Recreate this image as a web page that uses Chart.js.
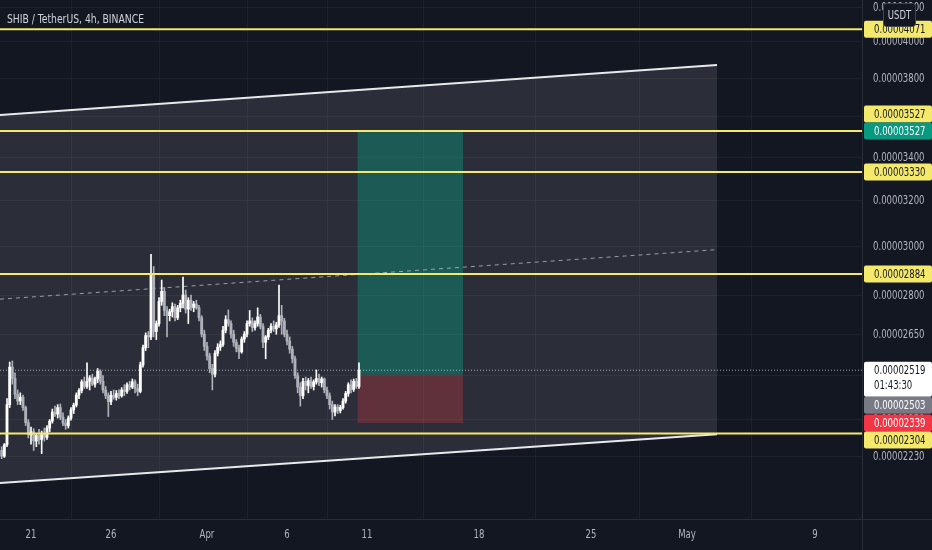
<!DOCTYPE html>
<html>
<head>
<meta charset="utf-8">
<title>SHIB / TetherUS, 4h</title>
<script src="https://cdn.jsdelivr.net/npm/chart.js@4.4.1/dist/chart.umd.min.js"></script>
<style>
  html, body { margin: 0; padding: 0; background: #131722; overflow: hidden; }
  #wrap { width: 932px; height: 550px; }
</style>
</head>
<body>
<div id="wrap"><canvas id="chart" width="932" height="550"></canvas></div>
<script>
// all prices are in units of 1e-8 USDT (2519 -> 0.00002519)
// time is counted in days from Mar 1 00:00 (20 -> Mar 21)

// 4h candles, first one Mar 19 04:00
const firstCandleDay = 18 + 4 / 24
const candleStep = 4 / 24

const opens = [2250, 2232, 2268, 2400, 2530, 2490, 2435, 2412, 2425, 2390,
  2340, 2300, 2310, 2280, 2298, 2285, 2305, 2292, 2322, 2345,
  2375, 2368, 2390, 2358, 2338, 2330, 2355, 2382, 2398, 2432,
  2448, 2478, 2462, 2480, 2492, 2470, 2488, 2515, 2480, 2450,
  2430, 2410, 2432, 2425, 2438, 2430, 2450, 2445, 2468, 2460,
  2478, 2455, 2445, 2538, 2600, 2645, 2640, 2880, 2660, 2690,
  2775, 2815, 2740, 2720, 2735, 2755, 2712, 2750, 2768, 2800,
  2745, 2780, 2752, 2765, 2750, 2712, 2650, 2605, 2570, 2525,
  2505, 2580, 2602, 2612, 2665, 2705, 2690, 2650, 2620, 2598,
  2585, 2632, 2650, 2690, 2700, 2675, 2690, 2715, 2680, 2620,
  2640, 2665, 2680, 2670, 2685, 2720, 2700, 2650, 2625, 2595,
  2560, 2500, 2460, 2430, 2480, 2465, 2482, 2462, 2478, 2490,
  2475, 2488, 2450, 2430, 2400, 2375, 2392, 2380, 2390, 2412,
  2438, 2468, 2452, 2480, 2462]
const highs = [2262, 2272, 2420, 2548, 2552, 2510, 2450, 2440, 2432, 2395,
  2350, 2325, 2320, 2305, 2318, 2312, 2322, 2330, 2350, 2385,
  2395, 2400, 2402, 2372, 2350, 2362, 2390, 2405, 2440, 2455,
  2485, 2495, 2545, 2500, 2505, 2495, 2525, 2520, 2500, 2462,
  2440, 2445, 2450, 2448, 2450, 2458, 2468, 2475, 2480, 2488,
  2485, 2470, 2548, 2610, 2655, 2660, 2965, 2915, 2700, 2790,
  2860, 2830, 2755, 2745, 2770, 2765, 2760, 2780, 2872, 2820,
  2790, 2800, 2775, 2780, 2760, 2720, 2665, 2620, 2580, 2540,
  2590, 2615, 2625, 2680, 2720, 2742, 2700, 2665, 2630, 2610,
  2640, 2660, 2700, 2740, 2712, 2700, 2750, 2725, 2690, 2645,
  2672, 2690, 2700, 2695, 2840, 2760, 2710, 2665, 2640, 2605,
  2570, 2510, 2475, 2490, 2495, 2490, 2495, 2485, 2520, 2505,
  2495, 2492, 2460, 2440, 2412, 2400, 2400, 2398, 2420, 2445,
  2475, 2485, 2488, 2490, 2545]
const lows = [2224, 2228, 2262, 2390, 2470, 2420, 2400, 2400, 2380, 2330,
  2290, 2270, 2250, 2262, 2270, 2240, 2280, 2285, 2310, 2338,
  2360, 2355, 2350, 2330, 2318, 2322, 2348, 2370, 2392, 2420,
  2440, 2455, 2455, 2450, 2465, 2460, 2475, 2470, 2440, 2420,
  2360, 2400, 2418, 2415, 2420, 2425, 2430, 2438, 2450, 2455,
  2440, 2430, 2440, 2530, 2590, 2600, 2630, 2640, 2630, 2680,
  2760, 2720, 2640, 2700, 2715, 2700, 2705, 2735, 2750, 2730,
  2690, 2740, 2735, 2745, 2700, 2640, 2590, 2555, 2510, 2450,
  2495, 2570, 2590, 2605, 2655, 2680, 2635, 2605, 2585, 2560,
  2580, 2620, 2640, 2680, 2660, 2665, 2680, 2670, 2600, 2560,
  2630, 2655, 2660, 2650, 2675, 2650, 2640, 2610, 2580, 2545,
  2490, 2440, 2395, 2420, 2450, 2440, 2455, 2450, 2470, 2465,
  2460, 2440, 2420, 2385, 2350, 2362, 2370, 2372, 2385, 2405,
  2428, 2440, 2445, 2455, 2455]
const closes = [2232, 2268, 2400, 2530, 2490, 2435, 2412, 2425, 2390, 2340,
  2300, 2310, 2280, 2298, 2285, 2305, 2292, 2322, 2345, 2375,
  2368, 2390, 2358, 2338, 2330, 2355, 2382, 2398, 2432, 2448,
  2478, 2462, 2480, 2492, 2470, 2488, 2515, 2480, 2450, 2430,
  2410, 2432, 2425, 2438, 2430, 2450, 2445, 2468, 2460, 2478,
  2455, 2445, 2538, 2600, 2645, 2640, 2880, 2660, 2690, 2775,
  2815, 2740, 2720, 2735, 2755, 2712, 2750, 2768, 2800, 2745,
  2780, 2752, 2765, 2750, 2712, 2650, 2605, 2570, 2525, 2505,
  2580, 2602, 2612, 2665, 2705, 2690, 2650, 2620, 2598, 2585,
  2632, 2650, 2690, 2700, 2675, 2690, 2715, 2680, 2620, 2640,
  2665, 2680, 2670, 2685, 2720, 2700, 2650, 2625, 2595, 2560,
  2500, 2460, 2430, 2480, 2465, 2482, 2462, 2478, 2490, 2475,
  2488, 2450, 2430, 2400, 2375, 2392, 2380, 2390, 2412, 2438,
  2468, 2452, 2480, 2462, 2519]

// visible range
const xMin = 18.0625
const xMax = 71.9375
const yMin = 2043
const yMax = 4242

// axis ticks
const dayTicks = [20, 25, 31, 36, 41, 48, 55, 61, 69]
const dayLabels = ['21', '26', 'Apr', '6', '11', '18', '25', 'May', '9']
const priceTicks = [2230, 2350, 2500, 2650, 2800, 3000, 3200, 3400, 3600, 3800, 4000, 4200]

// drawings
const levels = [4071, 3527, 3330, 2884, 2304]
const channelDays = [xMin, 62.875]
const channelTop = [3608, 3871]
const channelMid = [2784, 2985]
const channelBottom = [2149, 2302]

const positionDays = [40.4, 47.0]
const takeProfit = 3527
const entry = 2503
const stopLoss = 2339
const lastPrice = 2519
const countdown = '01:43:30'

const title = 'SHIB / TetherUS, 4h, BINANCE'

// styles
const fontFamily = '"DejaVu Sans Condensed", sans-serif'
const squeeze = 0.79 // the screenshot font is narrower than anything installed
const textColor = '#b2b5be'
const gridColor = 'rgba(255, 255, 255, 0.045)'
const upColor = '#ffffff'
const downColor = '#aeb1ba'
const levelColor = '#f5e96b'

const candleDays = opens.map((_, i) => firstCandleDay + i * candleStep)
const candleColor = (ctx) => closes[ctx.dataIndex] >= opens[ctx.dataIndex] ? upColor : downColor

function segment (label, xs, ys, extra) {
  return Object.assign({
    type: 'line',
    label,
    data: xs.map((x, i) => ({ x, y: ys[i] })),
    pointRadius: 0,
    borderWidth: 1,
    tension: 0,
    fill: false
  }, extra)
}

const datasets = [
  segment('channel top', channelDays, channelTop, {
    borderColor: '#e8e9ec', borderWidth: 2, fill: 1,
    backgroundColor: 'rgba(255, 255, 255, 0.1)', order: 80
  }),
  segment('channel bottom', channelDays, channelBottom, { borderColor: '#e8e9ec', borderWidth: 2, order: 79 }),
  segment('profit', positionDays, [takeProfit, takeProfit], {
    borderWidth: 0, borderColor: 'transparent', fill: { value: entry },
    backgroundColor: 'rgba(8, 153, 129, 0.42)', order: 70
  }),
  segment('loss', positionDays, [entry, entry], {
    borderWidth: 0, borderColor: 'transparent', fill: { value: stopLoss },
    backgroundColor: 'rgba(242, 54, 69, 0.27)', order: 70
  }),
  segment('channel mid', channelDays, channelMid, { borderColor: 'rgba(200, 202, 210, 0.7)', borderDash: [4, 4], order: 60 }),
  segment('last price', [xMin, xMax], [lastPrice, lastPrice], { borderColor: 'rgba(200, 202, 210, 0.8)', borderDash: [1, 2], order: 30 }),
  {
    type: 'bar',
    label: 'wicks',
    data: candleDays.map((x, i) => ({ x, y: [lows[i], highs[i]] })),
    backgroundColor: candleColor,
    barThickness: 1,
    grouped: false,
    order: 20
  },
  {
    type: 'bar',
    label: 'bodies',
    data: candleDays.map((x, i) => ({ x, y: [opens[i], closes[i]] })),
    backgroundColor: candleColor,
    barThickness: 2.2,
    grouped: false,
    order: 19
  },
  ...levels.map(v => segment('level ' + v, [xMin, xMax], [v, v], { borderColor: levelColor, borderWidth: 2, order: 5 }))
]

// price tags on the right scale
const tags = [
  ...levels.map(v => ({ value: v, bg: levelColor, fg: '#131722' })),
  { value: takeProfit, bg: '#089981', fg: '#ffffff' },
  { value: lastPrice, bg: '#ffffff', fg: '#131722', sub: countdown },
  { value: entry, bg: '#787b86', fg: '#ffffff' },
  { value: stopLoss, bg: '#f23645', fg: '#ffffff' }
]

const fmt = v => (v / 1e8).toFixed(8)

// narrow text: fillText squeezes the glyphs to the given width
function narrowText (ctx, s, x, y, align) {
  ctx.textAlign = align
  ctx.fillText(s, x, y, ctx.measureText(s).width * squeeze)
}

const chrome = {
  id: 'chrome',
  beforeDraw (chart) {
    const { ctx, width, height } = chart
    ctx.save()
    ctx.fillStyle = '#131722'
    ctx.fillRect(0, 0, width, height)
    ctx.restore()
  },
  afterDraw (chart) {
    const { ctx, chartArea, width, height } = chart
    const xScale = chart.scales.x
    const yScale = chart.scales.y
    ctx.save()

    // pane borders
    ctx.strokeStyle = '#2a2e39'
    ctx.lineWidth = 1
    ctx.beginPath()
    ctx.moveTo(chartArea.right + 0.5, 0)
    ctx.lineTo(chartArea.right + 0.5, height)
    ctx.moveTo(0, chartArea.bottom + 0.5)
    ctx.lineTo(width, chartArea.bottom + 0.5)
    ctx.stroke()

    // axis labels
    ctx.font = '12px ' + fontFamily
    ctx.textBaseline = 'middle'
    ctx.fillStyle = textColor
    yScale.ticks.forEach(t => {
      narrowText(ctx, fmt(t.value), chartArea.right + 11, yScale.getPixelForValue(t.value) + 0.5, 'left')
    })
    xScale.ticks.forEach(t => {
      narrowText(ctx, dayLabels[dayTicks.indexOf(t.value)], xScale.getPixelForValue(t.value), chartArea.bottom + 16, 'center')
    })

    // place tags, pushing overlapping ones apart
    const h = 17
    const placed = tags
      .map((t, i) => ({ ...t, i, y: yScale.getPixelForValue(t.value), h: t.sub ? 35 : h }))
      .sort((a, b) => (b.value - a.value) || (a.i - b.i))
    placed.forEach((t, k) => {
      t.top = t.y - h / 2
      const prev = placed[k - 1]
      if (prev && t.top < prev.top + prev.h) {
        if (prev.value === t.value) prev.top = t.top - prev.h
        else t.top = prev.top + prev.h
      }
    })

    const bx = chartArea.right + 2
    placed.forEach(t => {
      ctx.fillStyle = t.bg
      ctx.beginPath()
      ctx.roundRect(bx, t.top, width - bx, t.h, 2)
      ctx.fill()
      ctx.fillStyle = t.fg
      narrowText(ctx, fmt(t.value), bx + 10, t.top + h / 2 + 0.5, 'left')
      if (t.sub) narrowText(ctx, t.sub, bx + 10, t.top + h / 2 + 15.5, 'left')
    })

    // currency box
    ctx.fillStyle = '#131722'
    ctx.strokeStyle = '#434651'
    ctx.beginPath()
    ctx.roundRect(883.5, 3.5, 32, 23, 3)
    ctx.fill()
    ctx.stroke()
    ctx.fillStyle = '#d1d4dc'
    narrowText(ctx, 'USDT', 899.5, 15.5, 'center')

    // title
    ctx.font = '13px ' + fontFamily
    ctx.fillStyle = '#d1d4dc'
    narrowText(ctx, title, 7, 19.5, 'left')

    ctx.restore()
  }
}

new Chart(document.getElementById('chart'), {
  type: 'bar',
  data: { datasets },
  options: {
    responsive: false,
    animation: false,
    events: [],
    layout: { padding: 0 },
    plugins: {
      legend: { display: false },
      tooltip: { enabled: false }
    },
    scales: {
      x: {
        type: 'linear',
        min: xMin,
        max: xMax,
        offset: false,
        grid: { color: gridColor, drawTicks: false },
        border: { display: false },
        ticks: { display: false },
        afterBuildTicks: s => { s.ticks = dayTicks.map(value => ({ value })) },
        afterFit: s => { s.height = 31; s.paddingLeft = 0; s.paddingRight = 0 }
      },
      y: {
        type: 'logarithmic',
        position: 'right',
        min: yMin,
        max: yMax,
        grid: { color: gridColor, drawTicks: false },
        border: { display: false },
        ticks: { display: false },
        afterBuildTicks: s => { s.ticks = priceTicks.map(value => ({ value })) },
        afterFit: s => { s.width = 70; s.paddingTop = 0; s.paddingBottom = 0 }
      }
    }
  },
  plugins: [chrome]
})
</script>
</body>
</html>
